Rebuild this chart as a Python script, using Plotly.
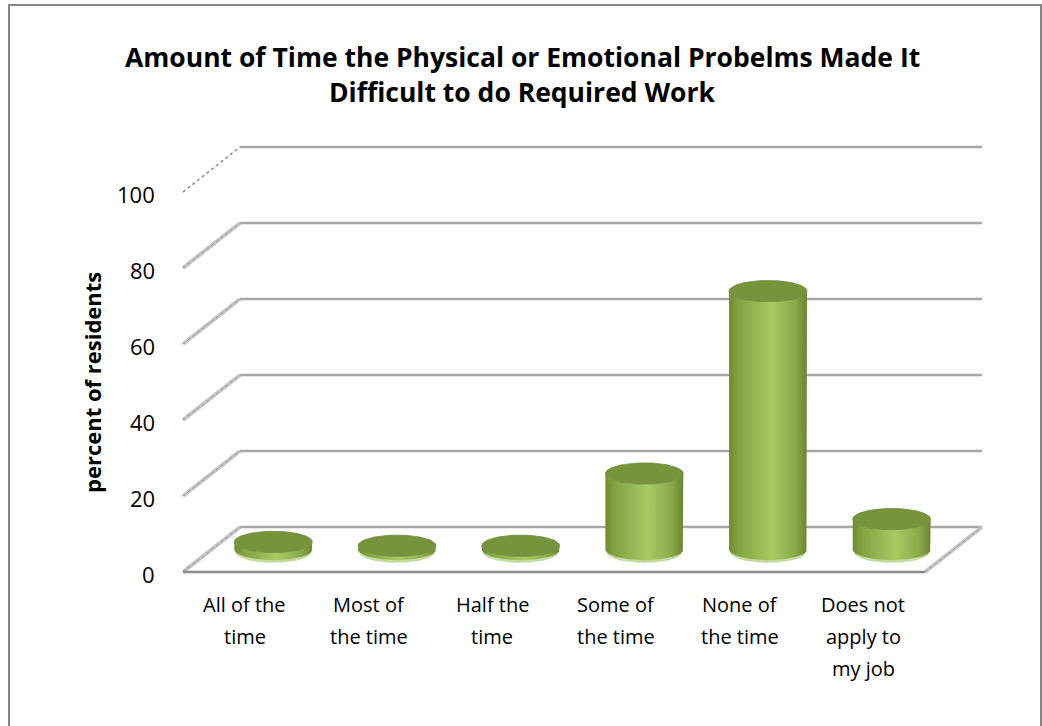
import numpy as np
import plotly.graph_objects as go

# ---- data -------------------------------------------------------------
categories = [
    "All of the<br>time",
    "Most of<br>the time",
    "Half the<br>time",
    "Some of<br>the time",
    "None of<br>the time",
    "Does not<br>apply to<br>my job",
]
percent = [2, 1, 1, 20, 68, 8]
tick_values = [0, 20, 40, 60, 80, 100]
tick_labels = ["0", "20", "40", "60", "80", "100"]
chart_title = "Amount of Time the Physical or Emotional Probelms Made It<br>Difficult to do Required Work"
y_title = "percent of residents"

# ---- geometry of the pseudo-3D frame (axis units) ---------------------
W, H = 1042, 726
PX_X = 123.67          # pixels per category
PX_Y = 3.8             # pixels per percent
X0_PX, Y0_PX = 183, 572  # front-left floor corner
DX = 57 / PX_X         # depth offset along x for the back wall
DY = 45 / PX_Y         # depth offset along y for the back wall
RX = 0.315             # cylinder radius (categories)
RY = 2.8               # cylinder ellipse half height (percent units)
FONT = "Open Sans, sans-serif"

x_range = [-0.5 - X0_PX / PX_X, -0.5 + (W - X0_PX) / PX_X]
y_range = [-(H - Y0_PX) / PX_Y, Y0_PX / PX_Y]

n = len(categories)
left, right = -0.5, n - 0.5

fig = go.Figure()


def line(xs, ys, color, width, dash="solid"):
    fig.add_trace(go.Scatter(x=xs, y=ys, mode="lines", hoverinfo="skip",
                             line=dict(color=color, width=width, dash=dash),
                             showlegend=False))


# back wall gridlines
for v in tick_values:
    line([left + DX, right + DX], [v + DY, v + DY], "#a6a6a6", 2.5)

# side wall edges (left) for every gridline
for v in tick_values:
    if v == tick_values[-1]:
        line([left, left + DX], [v, v + DY], "#8c8c8c", 1.5, "dot")
    else:
        line([left, left + DX], [v, v + DY], "#c4c4c4", 4)
        line([left, left + DX], [v, v + DY], "#9a9a9a", 1, "dot")

# floor: front edge and right edge
line([left, right], [0, 0], "#8c8c8c", 2.5)
line([right, right + DX], [0, DY], "#c4c4c4", 4)
line([right, right + DX], [0, DY], "#9a9a9a", 1, "dot")

# ---- cylinders --------------------------------------------------------
t_front = np.linspace(np.pi, 2 * np.pi, 60)
t_full = np.linspace(0, 2 * np.pi, 120)
base = 0.5 * DY
for i, val in enumerate(percent):
    cx = i + 0.5 * DX
    top = base + val

    # pale rim under the base
    fig.add_trace(go.Scatter(
        x=cx + RX * 0.97 * np.cos(t_full), y=base - 0.7 + RY * np.sin(t_full),
        fill="toself", fillcolor="#c6dba0", mode="lines", line=dict(width=0),
        hoverinfo="skip", showlegend=False))

    # body
    bx = np.concatenate([[cx - RX], cx + RX * np.cos(t_front), [cx + RX],
                         cx + RX * np.cos(t_front[::-1])])
    by = np.concatenate([[top], top + RY * np.sin(t_front), [base],
                         base + RY * np.sin(t_front[::-1])])
    fig.add_trace(go.Scatter(
        x=bx, y=by, fill="toself", mode="lines", line=dict(width=0),
        fillgradient=dict(type="horizontal", colorscale=[
            [0.0, "#6e8c30"], [0.12, "#83a343"], [0.55, "#a9c964"],
            [0.85, "#8aa94a"], [1.0, "#6a862e"]]),
        name=categories[i].replace("<br>", " "),
        hovertemplate="%{fullData.name}: " + str(val) + "%<extra></extra>",
        showlegend=False))

    # top cap
    fig.add_trace(go.Scatter(
        x=cx + RX * np.cos(t_full), y=top + RY * np.sin(t_full),
        fill="toself", fillcolor="#77943d", mode="lines",
        line=dict(width=0.8, color="#6f8b38"),
        hoverinfo="skip", showlegend=False))

# ---- text ---------------------------------------------------------------
annotations = []
for v, lab in zip(tick_values, tick_labels):
    annotations.append(dict(x=left, y=v, xref="x", yref="y", text=lab,
                            showarrow=False, xanchor="right", yanchor="middle",
                            xshift=-26, yshift=-2,
                            font=dict(family=FONT, size=22, color="#000000")))

# category labels, one annotation per line for Excel-like line spacing
LABEL_TOP_PX = 604
LABEL_STEP_PX = 32
for i, lab in enumerate(categories):
    for k, part in enumerate(lab.split("<br>")):
        annotations.append(dict(x=i, y=0, xref="x", yref="y", text=part,
                                showarrow=False, xanchor="center",
                                yanchor="middle",
                                yshift=-(LABEL_TOP_PX + k * LABEL_STEP_PX - Y0_PX),
                                font=dict(family=FONT, size=20, color="#000000")))

# two-line chart title
for k, part in enumerate(chart_title.split("<br>")):
    annotations.append(dict(x=522 / W, y=1 - (57 + 35 * k) / H,
                            xref="paper", yref="paper",
                            text="<b>" + part + "</b>", showarrow=False,
                            xanchor="center", yanchor="middle",
                            font=dict(family=FONT, size=26.5, color="#000000")))

annotations.append(dict(x=92 / W, y=1 - 383 / H, xref="paper", yref="paper",
                        text="<b>" + y_title + "</b>", showarrow=False,
                        textangle=-90, xanchor="center", yanchor="middle",
                        font=dict(family=FONT, size=22, color="#000000")))

fig.update_layout(
    width=W, height=H,
    margin=dict(l=0, r=0, t=0, b=0),
    paper_bgcolor="#ffffff", plot_bgcolor="#ffffff",
    xaxis=dict(range=x_range, visible=False, fixedrange=True),
    yaxis=dict(range=y_range, visible=False, fixedrange=True),
    annotations=annotations,
    shapes=[dict(type="rect", xref="paper", yref="paper",
                 x0=9 / W, x1=1041 / W, y0=-0.02, y1=1 - 5 / H,
                 line=dict(color="#868686", width=2))],
)

fig.write_html("out.html")
